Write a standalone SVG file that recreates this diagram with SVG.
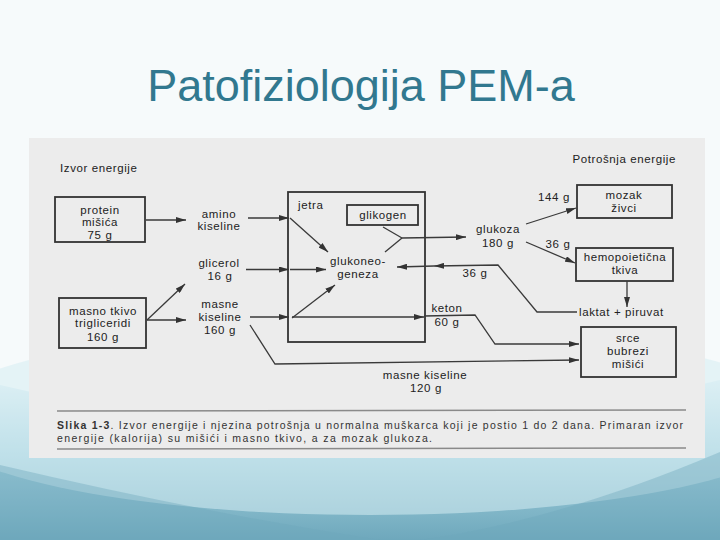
<svg xmlns="http://www.w3.org/2000/svg" width="720" height="540" viewBox="0 0 720 540">
<defs>
  <linearGradient id="teal" x1="0" y1="380" x2="0" y2="540" gradientUnits="userSpaceOnUse">
    <stop offset="0" stop-color="#e4f2f6"/>
    <stop offset="0.45" stop-color="#a6d2df"/>
    <stop offset="1" stop-color="#6ea8bc"/>
  </linearGradient>
  <marker id="ah" viewBox="0 0 10 6" refX="10" refY="3" markerWidth="10" markerHeight="6" markerUnits="userSpaceOnUse" orient="auto">
    <path d="M0,0 L10,3 L0,6 Z" fill="#333"/>
  </marker>
</defs>
<style>
  .title{font-family:"Liberation Sans",Arial,sans-serif;font-size:45px;fill:#31788f;text-anchor:middle}
  .t{font-family:"Liberation Sans",Arial,sans-serif;font-size:11.5px;letter-spacing:0.6px;fill:#222;text-anchor:middle}
  .l{text-anchor:start}
  .e{text-anchor:end}
  .box{fill:none;stroke:#333;stroke-width:1.8}
  .c{fill:none;stroke:#3a3a3a;stroke-width:1.3}
  .a{marker-end:url(#ah)}
  .cap{font-family:"Liberation Sans",Arial,sans-serif;font-size:10.5px;fill:#333}
  .sep{stroke:#8a8a8a;stroke-width:1.4}
</style>

<!-- slide background -->
<rect width="720" height="540" fill="#f6fafb"/>
<path d="M0,385 Q360,470 720,380 L720,540 L0,540 Z" fill="url(#teal)"/>
<ellipse cx="370" cy="420" rx="440" ry="95" fill="#d6ecf2" opacity="0.55"/>
<path d="M0,465 Q200,512 380,540 L0,540 Z" fill="#6ea8bb" opacity="0.4"/>
<path d="M720,452 Q560,520 420,540 L720,540 Z" fill="#6ea8bb" opacity="0.4"/>

<text class="title" x="361" y="101">Patofiziologija PEM-a</text>

<!-- figure -->
<rect x="29" y="138" width="676" height="320" fill="#ececec"/>

<g id="izvor-label"><text class="t l" x="60" y="172">Izvor energije</text></g>
<g id="potrosnja-label"><text class="t e" x="676" y="163">Potrošnja energije</text></g>

<g id="protein">
  <rect class="box" x="55" y="197" width="90" height="45"/>
  <text class="t" x="100" y="214">protein</text>
  <text class="t" x="100" y="226">mišića</text>
  <text class="t" x="100" y="239">75 g</text>
</g>
<g id="masno-tkivo">
  <rect class="box" x="59" y="298" width="87" height="50"/>
  <text class="t" x="103" y="315">masno tkivo</text>
  <text class="t" x="103" y="327">trigliceridi</text>
  <text class="t" x="103" y="341">160 g</text>
</g>
<g id="amino">
  <text class="t" x="219" y="218">amino</text>
  <text class="t" x="219" y="230">kiseline</text>
</g>
<g id="glicerol">
  <text class="t" x="219" y="267">glicerol</text>
  <text class="t" x="220" y="280">16 g</text>
</g>
<g id="masne-kiseline">
  <text class="t" x="220" y="308">masne</text>
  <text class="t" x="220" y="321">kiseline</text>
  <text class="t" x="220" y="334">160 g</text>
</g>
<g id="jetra">
  <rect class="box" x="288" y="192" width="137" height="150"/>
  <text class="t l" x="298" y="209">jetra</text>
</g>
<g id="glikogen">
  <rect class="box" x="347" y="205" width="71" height="20" stroke-width="2.2"/>
  <text class="t" x="383" y="219">glikogen</text>
</g>
<g id="glukoneogeneza">
  <text class="t" x="358" y="265">glukoneo-</text>
  <text class="t" x="358" y="278">geneza</text>
</g>
<g id="glukoza">
  <text class="t" x="498" y="233">glukoza</text>
  <text class="t" x="498" y="247">180 g</text>
</g>
<g id="keton">
  <text class="t" x="447" y="312">keton</text>
  <text class="t" x="447" y="326">60 g</text>
</g>
<g id="mozak">
  <rect class="box" x="577" y="185" width="95" height="33"/>
  <text class="t" x="624" y="199">mozak</text>
  <text class="t" x="624" y="212">živci</text>
</g>
<g id="hemopoieticna">
  <rect class="box" x="576" y="248" width="97" height="33"/>
  <text class="t" x="625" y="261">hemopoietična</text>
  <text class="t" x="625" y="274">tkiva</text>
</g>
<g id="laktat-piruvat">
  <text class="t l" x="579" y="316">laktat + piruvat</text>
</g>
<g id="srce">
  <rect class="box" x="581" y="327" width="95" height="50"/>
  <text class="t" x="628" y="342">srce</text>
  <text class="t" x="628" y="355">bubrezi</text>
  <text class="t" x="628" y="368">mišići</text>
</g>

<g id="connectors">
  <line class="c a" x1="146" y1="220" x2="186" y2="220"/>
  <line class="c a" x1="147" y1="320" x2="185" y2="284"/>
  <line class="c a" x1="147" y1="320" x2="186" y2="320"/>
  <line class="c a" x1="248" y1="218" x2="289" y2="218"/>
  <line class="c a" x1="246" y1="269.5" x2="289" y2="269.5"/>
  <line class="c a" x1="290" y1="269.5" x2="326" y2="269.5"/>
  <line class="c a" x1="250" y1="317" x2="289" y2="317"/>
  <line class="c a" x1="290" y1="218" x2="328" y2="252"/>
  <line class="c a" x1="292" y1="318" x2="335" y2="285"/>
  <line class="c a" x1="292" y1="317" x2="424" y2="317"/>
  <polyline class="c a" points="424,316 475,315 495,344 579,344"/>
  <polyline class="c a" points="250,325 275,364 579,360"/>
  <line class="c" x1="383" y1="227" x2="402" y2="238"/>
  <line class="c" x1="385" y1="252" x2="402" y2="238"/>
  <line class="c a" x1="402" y1="238" x2="466" y2="237"/>
  <line class="c a" x1="526" y1="224" x2="576" y2="208"/>
  <line class="c a" x1="526" y1="242" x2="575" y2="263"/>
  <line class="c a" x1="627" y1="281" x2="627" y2="307"/>
  <polyline class="c a" points="577,312 537,312 498,265 434,266"/>
  <line class="c a" x1="434" y1="266" x2="397" y2="267"/>
</g>

<g id="edge-labels">
  <text class="t" x="554" y="201">144 g</text>
  <text class="t" x="558" y="248">36 g</text>
  <text class="t" x="475" y="277">36 g</text>
  <text class="t" x="425" y="379">masne kiseline</text>
  <text class="t" x="426" y="392">120 g</text>
</g>

<g id="caption">
  <line class="sep" x1="57" y1="411" x2="686" y2="410"/>
  <text class="cap" x="57" y="429" textLength="626" lengthAdjust="spacing"><tspan font-weight="bold">Slika 1-3</tspan>. Izvor energije i njezina potrošnja u normalna muškarca koji je postio 1 do 2 dana. Primaran izvor</text>
  <text class="cap" x="57" y="442" textLength="375" lengthAdjust="spacing">energije (kalorija) su mišići i masno tkivo, a za mozak glukoza.</text>
  <line class="sep" x1="57" y1="449" x2="686" y2="448"/>
</g>
</svg>
